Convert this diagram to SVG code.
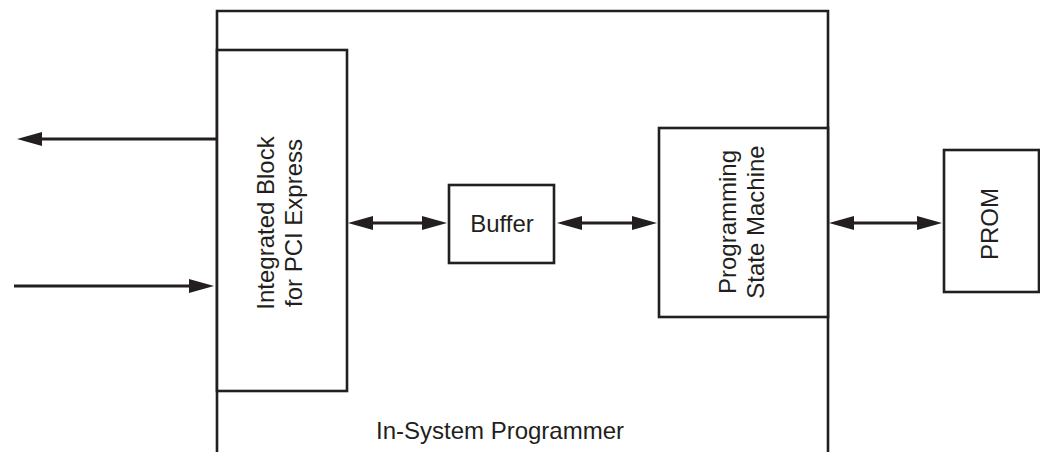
<svg xmlns="http://www.w3.org/2000/svg" width="1040" height="452" viewBox="0 0 1040 452">
<style>
.box{fill:#fff;stroke:#231f20;stroke-width:2.6}
.frame{fill:none;stroke:#231f20;stroke-width:2.6}
.lbl{font-family:"Liberation Sans",Arial,sans-serif;font-size:24px;fill:#231f20;text-anchor:middle}
.conn{stroke:#231f20;stroke-width:3.2;fill:none}
.one{marker-end:url(#ah)}
.two{marker-start:url(#ah);marker-end:url(#ah)}
</style>
<defs>
<marker id="ah" markerUnits="userSpaceOnUse" markerWidth="26" markerHeight="14" refX="15" refY="7" orient="auto-start-reverse">
<path d="M0,0 L25,7 L0,14 z" fill="#231f20"/>
</marker>
</defs>
<rect width="1040" height="452" fill="#fff"/>
<g id="in-system-programmer">
<path class="frame" d="M217,454 V11 H828 V454"/>
<text class="lbl" x="500" y="439">In-System Programmer</text>
</g>
<g id="integrated-block">
<rect class="box" x="217" y="50" width="130" height="341"/>
<text class="lbl" transform="translate(0,223) rotate(-90)"><tspan x="0" y="274">Integrated Block</tspan><tspan x="0" y="302">for PCI Express</tspan></text>
</g>
<g id="buffer">
<rect class="box" x="449" y="185" width="105" height="78"/>
<text class="lbl" x="502" y="232">Buffer</text>
</g>
<g id="state-machine">
<rect class="box" x="659" y="128" width="169" height="189"/>
<text class="lbl" transform="translate(0,222) rotate(-90)"><tspan x="0" y="736">Programming</tspan><tspan x="0" y="764">State Machine</tspan></text>
</g>
<g id="prom">
<rect class="box" x="944" y="150" width="95" height="142"/>
<text class="lbl" transform="translate(0,224) rotate(-90)" x="0" y="998">PROM</text>
</g>
<g id="connectors">
<line class="conn one" x1="217" y1="139" x2="27" y2="139"/>
<line class="conn one" x1="14" y1="286" x2="204" y2="286"/>
<line class="conn two" x1="358" y1="223" x2="437" y2="223"/>
<line class="conn two" x1="567" y1="223" x2="647" y2="223"/>
<line class="conn two" x1="839" y1="223" x2="932" y2="223"/>
</g>
</svg>
